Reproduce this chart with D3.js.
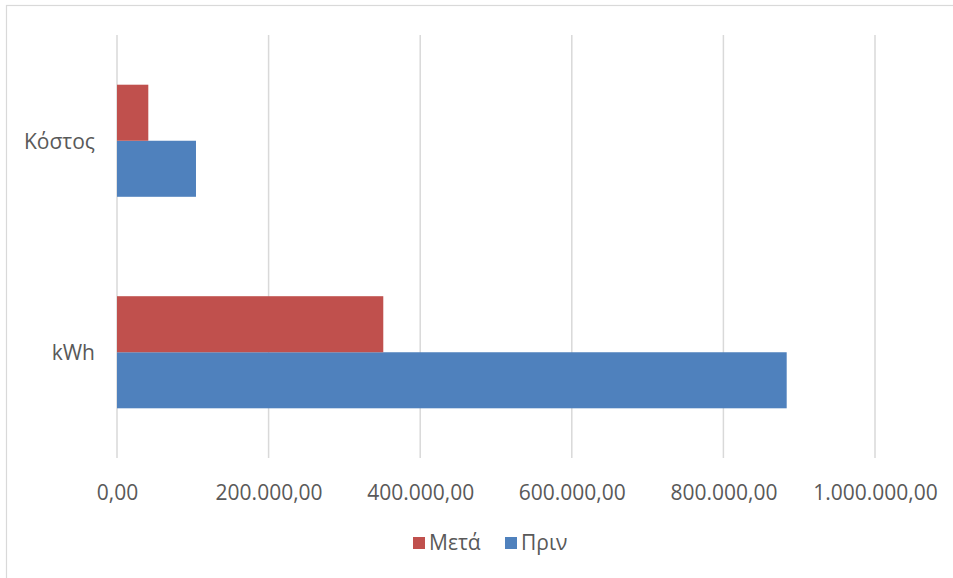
<!DOCTYPE html>
<html><head><meta charset="utf-8">
<script src="https://cdn.jsdelivr.net/npm/d3@7"></script>
<style>body{margin:0;background:#fff;} svg{display:block;}</style>
</head><body>
<script>
const categories = ["kWh", "Κόστος"];           // Excel order: first category at bottom
const seriesNames = ["Πριν", "Μετά"];
const valuesPrin = [883500, 104200];
const valuesMeta = [351300, 41300];
const tickValues = [0, 200000, 400000, 600000, 800000, 1000000];
const colors = {"Πριν": "#4F81BD", "Μετά": "#C0504D"};

const W = 953, H = 578;
const svg = d3.select("body").append("svg").attr("width", W).attr("height", H);

// chart border
svg.append("rect").attr("x", 6.5).attr("y", 5.5).attr("width", W + 10).attr("height", H + 10)
  .attr("fill", "none").attr("stroke", "#D9D9D9").attr("stroke-width", 1.2);

const plot = {left: 117, right: 875, top: 35, bottom: 458};
const x = d3.scaleLinear().domain([0, 1000000]).range([plot.left, plot.right]);
const yCat = d3.scaleBand().domain(categories.slice().reverse()).range([plot.top, plot.bottom])
  .paddingInner(0.47).paddingOuter(0.235);
const ySer = d3.scaleBand().domain(["Μετά", "Πριν"]).range([0, yCat.bandwidth()]);

const fmt = v => {
  const s = d3.format(",.2f")(v);
  return s.replace(/,/g, "#").replace(".", ",").replace(/#/g, ".");
};

const fontStyle = sel => sel.style("font-family", "'Open Sans', sans-serif")
  .style("font-size", "21px").attr("fill", "#595959");

// gridlines
svg.append("g").selectAll("line").data(tickValues).join("line")
  .attr("x1", d => x(d)).attr("x2", d => x(d))
  .attr("y1", plot.top).attr("y2", plot.bottom)
  .attr("stroke", "#D9D9D9").attr("stroke-width", 1.5);

// bars
const data = [];
categories.forEach((c, i) => {
  data.push({cat: c, s: "Πριν", v: valuesPrin[i]});
  data.push({cat: c, s: "Μετά", v: valuesMeta[i]});
});
svg.append("g").selectAll("rect").data(data).join("rect")
  .attr("x", x(0))
  .attr("y", d => yCat(d.cat) + ySer(d.s))
  .attr("width", d => x(d.v) - x(0))
  .attr("height", ySer.bandwidth())
  .attr("fill", d => colors[d.s]);

// x axis labels
const xAxis = d3.axisBottom(x).tickValues(tickValues).tickFormat(fmt).tickSize(0).tickPadding(0);
const gx = svg.append("g").attr("transform", `translate(0,${plot.bottom + 35})`).call(xAxis);
gx.select(".domain").remove();
gx.selectAll("text").attr("dy", "0.35em").attr("y", 0).call(fontStyle);

// y axis labels
const yAxis = d3.axisLeft(d3.scalePoint().domain(categories).range([yCat("kWh") + yCat.bandwidth()/2, yCat("Κόστος") + yCat.bandwidth()/2]))
  .tickSize(0).tickPadding(0);
const gy = svg.append("g").attr("transform", `translate(${plot.left - 22},0)`).call(yAxis);
gy.select(".domain").remove();
gy.selectAll("text").attr("dy", "0.35em").call(fontStyle);

// legend
const legendItems = ["Μετά", "Πριν"];
const lg = svg.append("g");
const lx = [413, 505];
legendItems.forEach((s, i) => {
  lg.append("rect").attr("x", lx[i]).attr("y", 537).attr("width", 12).attr("height", 12).attr("fill", colors[s]);
  lg.append("text").attr("x", lx[i] + 16).attr("y", 543).attr("dy", "0.35em").call(fontStyle).text(s);
});
</script>
</body></html>
